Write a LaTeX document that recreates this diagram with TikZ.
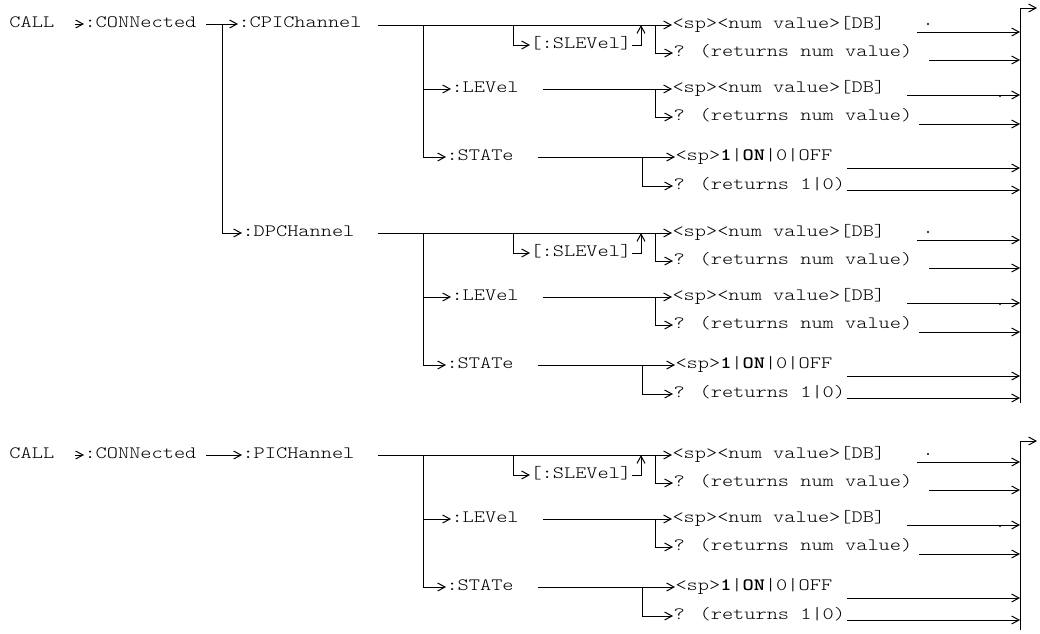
\documentclass[tikz,border=0pt]{standalone}
\usepackage{fontspec}
\usepackage{graphicx}
\usetikzlibrary{arrows.meta}
\newcommand{\T}[1]{\scalebox{1.23}[1]{#1}}
\newcommand{\B}[1]{{\fontseries{b}\selectfont #1}}
\tikzset{
  arr/.style={-{Straight Barb[length=5.5pt,width=6pt]}},
  txt/.style={inner sep=0pt, anchor=base west, font=\ttfamily\fontseries{l}\fontsize{13}{15}\selectfont},
}
\newcommand{\chanblock}[2]{%
\begin{scope}[shift={(0,#2)}, name prefix=#1-]
  \coordinate (j0) at (378,0);
  \coordinate (jv) at (423,0);
  \coordinate (js) at (513,0);
  \coordinate (ju) at (641,0);
  \coordinate (jq) at (655,0);
  \coordinate (jsl) at (513,20);
  \coordinate (jul) at (641,20);
  \coordinate (jqb) at (655,28);
  \coordinate (jvl) at (423,64);
  \coordinate (jl) at (543,64);
  \coordinate (jlq) at (655,64);
  \coordinate (jlqb) at (655,92);
  \coordinate (jvs) at (423,132);
  \coordinate (jst) at (538,132);
  \coordinate (jsq) at (642,132);
  \coordinate (jsqb) at (642,161);
  \node[txt] (sp1) at (672,3) {\T{<sp><num value>[DB]}};
  \node[txt] (sl) at (530,23) {\T{[:SLEVel]}};
  \node[txt] (q1) at (673,31) {\T{? (returns num value)}};
  \node[txt] (lev) at (451,67) {\T{:LEVel}};
  \node[txt] (sp2) at (672,67) {\T{<sp><num value>[DB]}};
  \node[txt] (q2) at (673,95) {\T{? (returns num value)}};
  \node[txt] (st) at (446,135) {\T{:STATe}};
  \node[txt] (sp3) at (675,135) {\T{<sp>\B{1}|\B{ON}|0|OFF}};
  \node[txt] (q3) at (673,164) {\T{? (returns 1|0)}};
  \draw[arr] (j0) -- (j0 -| sp1.west);
  \draw[arr] (js) -- (jsl) -- (jsl -| sl.west);
  \draw[arr] (sl.east |- jul) -- (jul) -- (ju);
  \draw[arr] (jq) -- (jqb) -- (jqb -| q1.west);
  \draw[arr] (jvl) -- (jvl -| lev.west);
  \draw[arr] (jv) -- (jvs) -- (jvs -| st.west);
  \draw[arr] (jl) -- (jl -| sp2.west);
  \draw[arr] (jlq) -- (jlqb) -- (jlqb -| q2.west);
  \draw[arr] (jst) -- (jst -| sp3.west);
  \draw[arr] (jsq) -- (jsqb) -- (jsqb -| q3.west);
  \foreach \n/\xa/\yy in {1/917/7, 2/929/35, 3/907/70, 4/919/99, 5/847/143, 6/847/165} {
    \coordinate (ea\n) at (\xa,\yy);
    \coordinate (eb\n) at (1020,\yy);
    \draw[arr] (ea\n) -- (eb\n);
  }
  \fill (928,-1) circle[radius=0.8pt];
  \fill (1000,71) circle[radius=0.8pt];
\end{scope}}
\begin{document}
\begin{tikzpicture}[x=0.75pt,y=-0.75pt,line width=0.75pt]
\useasboundingbox (0,0) rectangle (1040,633);
% block 1 header
\node[txt] (call1) at (9,27) {\T{CALL}};
\coordinate (ca1) at (75,24);
\node[txt] (con1) at (84,27) {\T{:CONNected}};
\coordinate (cb1) at (206,24);
\coordinate (cv1) at (222,24);
\coordinate (cvd) at (222,233);
\node[txt] (cpi) at (238,27) {\T{:CPIChannel}};
\node[txt] (dpc) at (242,236) {\T{:DPCHannel}};
\draw[arr] (ca1) -- (ca1 -| con1.west);
\draw[arr] (cb1) -- (cb1 -| cpi.west);
\draw[arr] (cv1) -- (cvd) -- (cvd -| dpc.west);
\chanblock{a}{25}
\chanblock{b}{233}
\coordinate (rb1) at (1020,403);
\coordinate (rt1) at (1020,8);
\coordinate (ro1) at (1037,8);
\draw[arr] (rb1) -- (rt1) -- (ro1);
% block 3
\node[txt] (call3) at (9,458) {\T{CALL}};
\coordinate (ca3) at (75,455);
\node[txt] (con3) at (84,458) {\T{:CONNected}};
\coordinate (cb3) at (206,455);
\node[txt] (pic) at (242,458) {\T{:PICHannel}};
\draw[arr] (ca3) -- (ca3 -| con3.west);
\draw[arr] (cb3) -- (cb3 -| pic.west);
\chanblock{c}{455}
\coordinate (rb3) at (1020,630);
\coordinate (rt3) at (1020,441);
\coordinate (ro3) at (1037,441);
\draw[arr] (rb3) -- (rt3) -- (ro3);
\end{tikzpicture}
\end{document}
